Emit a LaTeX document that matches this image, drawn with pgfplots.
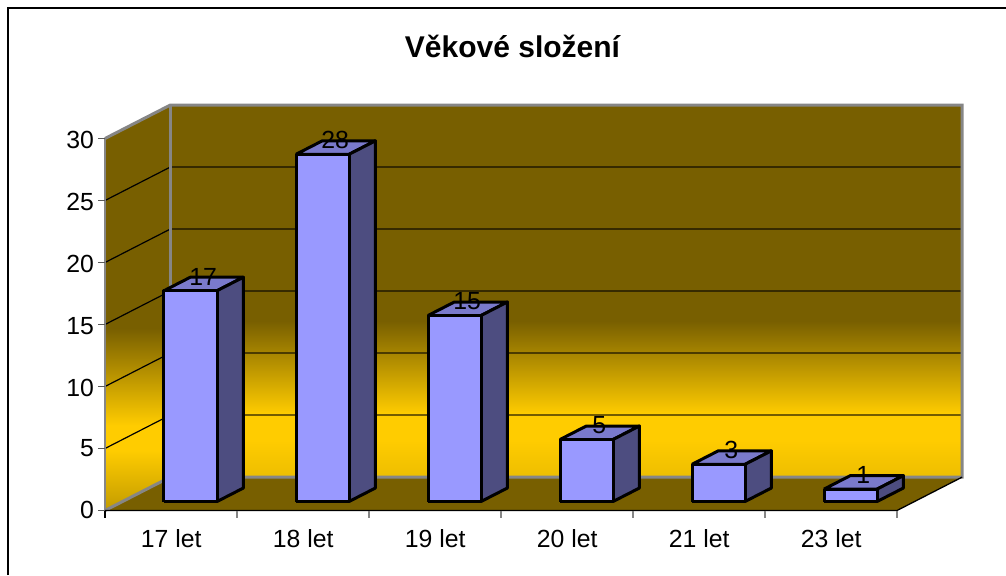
\documentclass[border=0pt]{standalone}
\usepackage{fontspec}
\setmainfont{Liberation Sans}
\usepackage{pgfplots}
\pgfplotsset{compat=1.18}
\definecolor{wallbrown}{HTML}{785F00}
\definecolor{wallyellow}{HTML}{FFCC00}
\definecolor{barfront}{HTML}{9999FF}
\definecolor{barside}{HTML}{4D4D80}
\definecolor{bartop}{HTML}{7A7ACC}
\definecolor{edgegray}{HTML}{868686}
\pgfdeclareverticalshading{backwall}{100bp}{color(0bp)=(wallyellow!93!black);color(25bp)=(wallyellow!93!black);color(30bp)=(wallyellow);color(33.5bp)=(wallyellow);color(46bp)=(wallbrown);color(100bp)=(wallbrown)}
\pgfdeclareverticalshading{leftwall}{100bp}{color(0bp)=(wallyellow!76!black);color(25bp)=(wallyellow!76!black);color(32.4bp)=(wallyellow);color(35.5bp)=(wallyellow);color(47.5bp)=(wallbrown);color(100bp)=(wallbrown)}
\newlength{\px}\setlength{\px}{0.75pt}
\newcommand{\tdbar}[3]{%
  \addplot3[draw=black,line width=3\px,line join=round,fill=bartop] coordinates {(#1,0.27,#3) (#2,0.27,#3) (#2,0.675,#3) (#1,0.675,#3) (#1,0.27,#3)};
  \addplot3[draw=black,line width=3\px,line join=round,fill=barside] coordinates {(#2,0.27,0) (#2,0.675,0) (#2,0.675,#3) (#2,0.27,#3) (#2,0.27,0)};
  \addplot3[draw=black,line width=3\px,line join=round,fill=barfront] coordinates {(#1,0.27,0) (#2,0.27,0) (#2,0.27,#3) (#1,0.27,#3) (#1,0.27,0)};
}
\begin{document}
\begin{tikzpicture}[x=1pt,y=1pt]
\useasboundingbox (0,0) rectangle (754.5pt,431.25pt);
\begin{axis}[
  at={(105\px,64.5\px)},anchor=origin,
  x={(132\px,0)},y={(65\px,33.3\px)},z={(0,12.4\px)},
  xmin=0,xmax=6,ymin=0,ymax=1,zmin=0,zmax=30,
  clip=false,
  axis line style={draw=none},
  ytick=\empty,
  xtick={0.5,1.5,2.5,3.5,4.5,5.5},
  xticklabels={17 let,18 let,19 let,20 let,21 let,23 let},
  ztick={0,5,10,15,20,25,30},
  xtick pos=left,ztick pos=left,
  tick align=outside,
  major tick length=6\px,
  xtick style={draw=none},
  ztick style={draw=none},
  tick label style={font=\fontsize{18.6}{20}\selectfont},
  xticklabel style={xshift=14\px,yshift=-12\px},
  zticklabel style={xshift=-1\px,yshift=6\px},
  /pgf/number format/assume math mode=true,
  title={\fontsize{22.5}{26}\selectfont\bfseries Věkové složení},
  title style={xshift=-21\px,yshift=35\px},
]
% walls and floor
\begin{scope}
\clip (axis cs:0,1,0) -- (axis cs:6,1,0) -- (axis cs:6,1,30) -- (axis cs:0,1,30) -- cycle;
\shade[shading=backwall] (axis cs:0,1,0) rectangle (axis cs:6,1,30);
\end{scope}
\begin{scope}
\clip (axis cs:0,0,0) -- (axis cs:0,1,0) -- (axis cs:0,1,30) -- (axis cs:0,0,30) -- cycle;
\shade[shading=leftwall] (axis cs:0,0,0) rectangle (axis cs:0,1,30);
\end{scope}
\fill[wallbrown] (axis cs:0,0,0) -- (axis cs:6,0,0) -- (axis cs:6,1,0) -- (axis cs:0,1,0) -- cycle;
% grid
\pgfplotsinvokeforeach{5,10,15,20,25}{
  \draw[black,line width=1.2\px] (axis cs:0,0,#1) -- (axis cs:0,1,#1);
  \draw[black,opacity=0.55,line width=1.6\px] (axis cs:0,1,#1) -- (axis cs:6,1,#1);
}
% frame of the walls
\draw[edgegray,line width=3\px,line join=miter] (axis cs:0,0,0) -- (axis cs:0,1,0) -- (axis cs:6,1,0) -- (axis cs:6,1,30) -- (axis cs:0,1,30) -- (axis cs:0,0,30);
\draw[edgegray,line width=3\px] (axis cs:0,1,0) -- (axis cs:0,1,30);
\draw[edgegray,line width=1.8\px] (axis cs:0,0,0) -- (axis cs:0,0,30);
\draw[black,line width=1.3\px] (axis cs:0,0,0) -- (axis cs:6,0,0) -- (axis cs:6,1,0);
% tick marks
\pgfplotsinvokeforeach{0,5,10,15,20,25,30}{
  \draw[black!65,line width=1.5\px] (axis cs:0,0,#1) -- ++(-7\px,0);
}
\draw[black,line width=1.5\px] (axis cs:0,0,0) -- ++(0,-7\px);
\pgfplotsinvokeforeach{1,2,3,4,5,6}{
  \draw[edgegray,line width=1.5\px] (axis cs:#1,0,0) -- ++(0,-7\px);
}
% bars
\tdbar{0.314}{0.716}{17}
\tdbar{1.314}{1.716}{28}
\tdbar{2.314}{2.716}{15}
\tdbar{3.314}{3.716}{5}
\tdbar{4.314}{4.716}{3}
\tdbar{5.314}{5.716}{1}
% value labels
\addplot3[draw=none,mark=none,point meta=z,
  nodes near coords,
  nodes near coords align={center},
  every node near coord/.append style={font=\fontsize{18.6}{20}\selectfont,text=black,yshift=7.5\px,/pgf/number format/assume math mode=true}]
 coordinates {(0.515,0.465,17) (1.515,0.465,28) (2.515,0.465,15) (3.515,0.465,5) (4.515,0.465,3) (5.515,0.465,1)};
\end{axis}
\draw[black,line width=2\px] (8\px,0) -- (8\px,566.5\px) -- (754.5pt,566.5\px);
\end{tikzpicture}
\end{document}
